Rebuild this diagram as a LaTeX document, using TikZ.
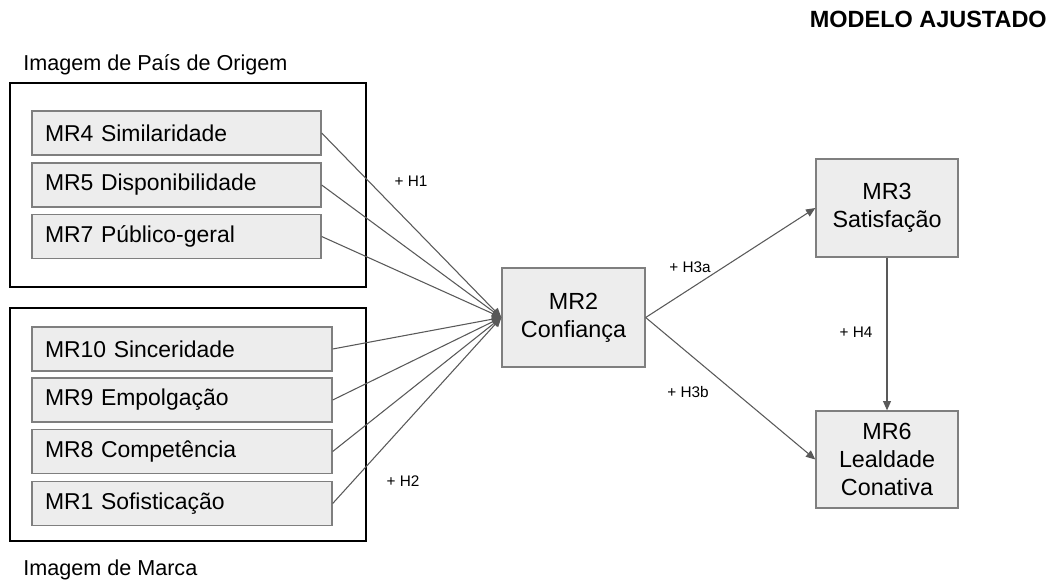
\documentclass[tikz,border=0pt]{standalone}
\usepackage{fontspec}
\setmainfont{Liberation Sans}
\usetikzlibrary{arrows.meta}
\definecolor{caixa}{HTML}{EDEDED}
\definecolor{borda}{HTML}{7F7F7F}
\definecolor{seta}{HTML}{595959}
\tikzset{
  fator/.style={draw=borda, fill=caixa, line width=1pt, minimum height=33pt,
    inner xsep=9.75pt, inner ysep=0pt, align=left, font=\fontsize{17.2}{20}\selectfont},
  construto/.style={draw=borda, fill=caixa, line width=1pt, inner sep=0pt,
    align=center, font=\fontsize{17.5}{21}\selectfont},
  grupo/.style={draw=black, line width=1pt, inner sep=0pt},
  rotulo/.style={font=\fontsize{11.5}{13}\selectfont},
  titulo/.style={anchor=base west, inner sep=0pt, font=\fontsize{16.2}{19}\selectfont},
  caminho/.style={draw=seta, line width=0.8pt, -{Triangle[length=7pt,width=6pt]}}
}
\begin{document}
\begin{tikzpicture}[x=0.75pt, y=-0.75pt]
\useasboundingbox (0,0) rectangle (1055,582);
\node[anchor=base east, inner sep=0pt, font=\bfseries\fontsize{17.6}{20}\selectfont] (modelo) at (1047,27) {MODELO AJUSTADO};
% grupos
\node[titulo] (torigem) at (23,70) {Imagem de País de Origem};
\node[grupo, minimum width=267pt, minimum height=153pt] (origem) at (188,185) {};
\node[titulo] (tmarca) at (23,575) {Imagem de Marca};
\node[grupo, minimum width=267pt, minimum height=174.75pt] (marca) at (188,424.5) {};
% fatores
\node[fator, text width=197.25pt] (mr4) at (176.5,133) {MR4 Similaridade};
\node[fator, text width=197.25pt] (mr5) at (176.5,185) {MR5 Disponibilidade};
\node[fator, text width=197.25pt] (mr7) at (176.5,236.5) {MR7 Público-geral};
\node[fator, text width=205.5pt] (mr10) at (182,349) {MR10 Sinceridade};
\node[fator, text width=205.5pt] (mr9) at (182,400) {MR9 Empolgação};
\node[fator, text width=205.5pt] (mr8) at (182,451.5) {MR8 Competência};
\node[fator, text width=205.5pt] (mr1) at (182,503.5) {MR1 Sofisticação};
% construtos
\node[construto, minimum width=107.25pt, minimum height=74.25pt] (mr2) at (573.5,317.5) {MR2\\Confiança};
\node[construto, minimum width=106.5pt, minimum height=73.5pt] (mr3) at (887,208) {MR3\\Satisfação};
\node[construto, minimum width=106.5pt, minimum height=72.75pt] (mr6) at (887,459.5) {MR6\\Lealdade\\Conativa};
% caminhos
\foreach \f in {mr4,mr5,mr7,mr10,mr9,mr8,mr1}
  \draw[caminho] (\f.east) -- (mr2.west);
\draw[caminho] (mr2.east) -- (mr3.west);
\draw[caminho] (mr2.east) -- (mr6.west);
\draw[caminho] (mr3.south) -- (mr6.north);
\node[rotulo] (h1) at (411,181) {+ H1};
\node[rotulo] (h2) at (403,481) {+ H2};
\node[rotulo] (h3a) at (690,267) {+ H3a};
\node[rotulo] (h3b) at (688,392) {+ H3b};
\node[rotulo] (h4) at (856,332) {+ H4};
\end{tikzpicture}
\end{document}
